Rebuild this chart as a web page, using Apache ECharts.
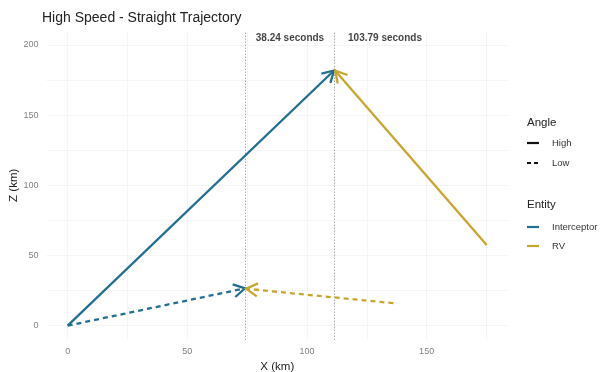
<!DOCTYPE html>
<html>
<head>
<meta charset="utf-8">
<script src="https://cdn.jsdelivr.net/npm/echarts@6/dist/echarts.min.js"></script>
<style>
  html, body { margin: 0; padding: 0; background: #ffffff; }
  #chart { width: 600px; height: 372px; }
</style>
</head>
<body>
<div id="chart"></div>
<script>
// Axis ticks and faint grid positions (km)
const xTicks = [0, 50, 100, 150];
const zTicks = [0, 50, 100, 150, 200];
const xGridLines = [0, 25, 50, 75, 100, 125, 150, 175];
const zGridLines = [0, 25, 50, 75, 100, 125, 150, 175, 200];

// Trajectories as [X km, Z km], start point first, intercept point last
const interceptorHigh = [[0, 0], [111.3, 181.8]];
const rvHigh = [[175.1, 57.5], [111.8, 181.6]];
const interceptorLow = [[0, 0], [74.1, 26.6]];
const rvLow = [[136.1, 16.0], [74.6, 26.3]];

// Intercept markers and time annotations
const interceptX = [74.1, 111.3];
const timeLabels = ['38.24 seconds', '103.79 seconds'];
const timeLabelX = [92.9, 132.6];
const timeLabelZ = [205, 205];

const BLUE = '#226f92';
const GOLD = '#c8a62c';
const FONT = '"Liberation Sans", Arial, sans-serif';

const trajectories = [
  { name: 'Interceptor High', pts: interceptorHigh, color: BLUE, dash: 'solid' },
  { name: 'RV High', pts: rvHigh, color: GOLD, dash: 'solid' },
  { name: 'Interceptor Low', pts: interceptorLow, color: BLUE, dash: [5, 4] },
  { name: 'RV Low', pts: rvLow, color: GOLD, dash: [5, 4] }
];

const chart = echarts.init(document.getElementById('chart'), null, { renderer: 'canvas' });

const lineSeries = trajectories.map(t => ({
  name: t.name,
  type: 'line',
  data: t.pts,
  showSymbol: false,
  symbol: 'none',
  silent: true,
  z: 3,
  lineStyle: { color: t.color, width: 2.3, type: t.dash }
}));

// Open arrowheads at the end of every trajectory
const arrowSeries = {
  type: 'custom',
  silent: true,
  z: 4,
  data: trajectories.map((t, i) => [t.pts[0][0], t.pts[0][1], t.pts[1][0], t.pts[1][1], i]),
  encode: { x: [0, 2], y: [1, 3] },
  renderItem: function (params, api) {
    const a = api.coord([api.value(0), api.value(1)]);
    const b = api.coord([api.value(2), api.value(3)]);
    const ang = Math.atan2(a[1] - b[1], a[0] - b[0]);
    const L = 13, w = Math.PI / 6;
    const p1 = [b[0] + L * Math.cos(ang + w), b[1] + L * Math.sin(ang + w)];
    const p2 = [b[0] + L * Math.cos(ang - w), b[1] + L * Math.sin(ang - w)];
    const color = trajectories[api.value(4)].color;
    return {
      type: 'polyline',
      shape: { points: [p1, b, p2] },
      style: { stroke: color, lineWidth: 2.3, fill: null, lineJoin: 'miter' }
    };
  }
};

// Faint panel grid
const gridSeries = {
  type: 'line',
  data: [],
  silent: true,
  z: 1,
  markLine: {
    z: 1,
    silent: true,
    symbol: 'none',
    animation: false,
    label: { show: false },
    lineStyle: { color: '#f2f2f2', width: 0.8, type: 'solid' },
    data: xGridLines.map(x => ({ xAxis: x })).concat(zGridLines.map(z => ({ yAxis: z })))
  }
};

// Dotted intercept markers
const interceptSeries = {
  type: 'line',
  data: [],
  silent: true,
  z: 2,
  markLine: {
    z: 2,
    silent: true,
    symbol: 'none',
    animation: false,
    label: { show: false },
    lineStyle: { color: '#666666', width: 0.8, type: [1, 2] },
    data: interceptX.map(x => ({ xAxis: x }))
  }
};

const labelSeries = {
  type: 'scatter',
  silent: true,
  symbolSize: 0,
  z: 5,
  data: timeLabels.map((s, i) => [timeLabelX[i], timeLabelZ[i], s]),
  label: {
    show: true,
    position: 'inside',
    formatter: p => p.value[2],
    fontFamily: FONT,
    fontSize: 10,
    fontWeight: 'bold',
    color: '#111111'
  }
};

// Legend drawn as two titled groups
const legendX = 527;
function keyLine(y, color, dash) {
  return {
    type: 'line',
    shape: { x1: legendX, y1: y, x2: legendX + 12, y2: y },
    style: { stroke: color, lineWidth: 2.2, lineDash: dash }
  };
}
function keyText(y, text) {
  return {
    type: 'text',
    x: legendX + 25, y: y,
    style: { text: text, font: '9.5px ' + FONT, fill: '#333333', verticalAlign: 'middle' }
  };
}
function keyTitle(y, text) {
  return {
    type: 'text',
    x: legendX, y: y,
    style: { text: text, font: '11.5px ' + FONT, fill: '#222222', verticalAlign: 'middle' }
  };
}

chart.setOption({
  animation: false,
  backgroundColor: '#ffffff',
  textStyle: { fontFamily: FONT },
  title: {
    text: 'High Speed - Straight Trajectory',
    left: 37,
    top: 6,
    textStyle: { fontFamily: FONT, fontSize: 14, fontWeight: 'normal', color: '#222222' }
  },
  grid: {
    left: 46.6, right: 92, top: 30.9, bottom: 32.3,
    containLabel: false,
    outerBoundsMode: 'none'
  },
  xAxis: {
    type: 'value',
    min: -8.8,
    max: 184,
    name: 'X (km)',
    nameLocation: 'middle',
    nameGap: 19,
    nameTextStyle: { fontFamily: FONT, fontSize: 11.5, color: '#222222' },
    axisLine: { show: false },
    axisTick: { show: false },
    splitLine: { show: false },
    axisLabel: { customValues: xTicks, color: '#808080', fontSize: 9, margin: 7, fontFamily: FONT }
  },
  yAxis: {
    type: 'value',
    min: -10,
    max: 210,
    name: 'Z (km)',
    nameLocation: 'middle',
    nameGap: 27,
    nameMoveOverlap: false,
    nameRotate: 90,
    nameTextStyle: { fontFamily: FONT, fontSize: 11.5, color: '#222222' },
    axisLine: { show: false },
    axisTick: { show: false },
    splitLine: { show: false },
    axisLabel: { customValues: zTicks, color: '#808080', fontSize: 9, margin: 8, fontFamily: FONT }
  },
  graphic: [
    keyTitle(123, 'Angle'),
    keyLine(143, '#111111', null),
    keyText(143, 'High'),
    keyLine(163, '#111111', [4, 3]),
    keyText(163, 'Low'),
    keyTitle(205, 'Entity'),
    keyLine(227, BLUE, null),
    keyText(227, 'Interceptor'),
    keyLine(246, GOLD, null),
    keyText(246, 'RV')
  ],
  series: [gridSeries, interceptSeries].concat(lineSeries, [arrowSeries, labelSeries])
});
</script>
</body>
</html>
